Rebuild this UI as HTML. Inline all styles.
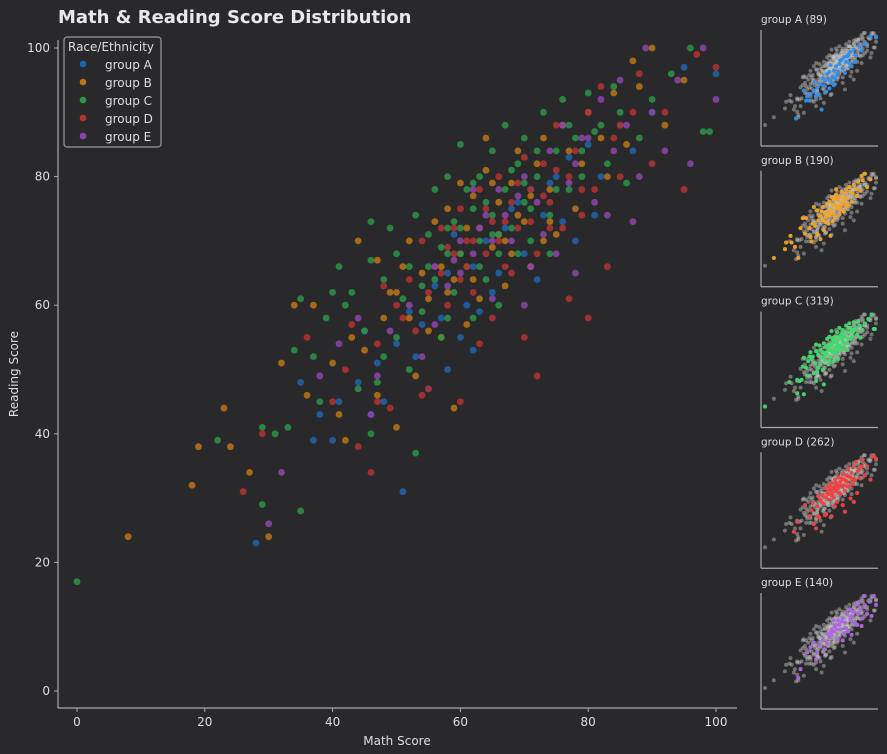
<!DOCTYPE html>
<html><head><meta charset="utf-8"><style>
html,body{margin:0;padding:0;background:#29292b;}
svg{display:block;font-family:"Liberation Sans","DejaVu Sans",sans-serif;}
</style></head><body>
<svg id="chart" width="887" height="754" viewBox="0 0 887 754">
<rect width="887" height="754" fill="#29292b"/>
<text x="58" y="23" fill="#e8e8e8" font-size="18" font-weight="bold" font-family="DejaVu Sans, sans-serif">Math &amp; Reading Score Distribution</text>
<g id="main"></g>
<g id="minis"></g>
<g id="legend">
<rect x="64" y="37" width="97" height="110" rx="3" fill="#29292b" stroke="#9a9a9a" stroke-width="1.2"/>
<text x="68" y="51" fill="#ddd" font-size="12" font-family="DejaVu Sans, sans-serif">Race/Ethnicity</text>
</g>
</svg>
<script>
const groups=["group A","group B","group C","group D","group E"];
const counts=[89,190,319,262,140];
const mathA=[28,37,38,40,41,44,46,48,50,51,53,54,55,57,58,60,61,62,64,65,67,68,70,71,73,75,77,78,80,82,85,87,90,95,100,62,56,45,35,66,59,63,69,72,76,52,47,74,81,58];
const readA=[23,39,43,39,45,48,43,45,54,31,52,57,47,58,50,55,60,66,70,62,72,75,68,78,74,80,83,70,85,80,88,84,90,97,96,53,63,56,48,65,71,59,76,64,73,59,51,79,74,65];
const mathB=[8,18,19,23,24,27,30,32,34,36,37,40,42,43,45,47,48,49,50,51,52,53,55,56,57,58,59,60,61,62,63,64,65,66,67,68,69,70,71,72,73,74,75,76,77,78,80,82,84,86,88,90,92,95,64,55,47,59,41,44,54,67,57,61,63,66,69,71,73,58,62,65,68,52,60,74,79,83,87,50];
const readB=[24,32,38,44,38,34,24,51,60,46,60,51,39,55,53,67,58,62,41,66,70,49,61,73,55,75,64,68,57,77,72,81,69,76,63,79,84,73,66,82,86,78,71,88,84,75,90,86,93,85,94,100,88,95,86,56,46,44,43,70,65,70,66,72,61,71,74,77,70,62,64,79,68,58,79,73,82,80,98,62];
const mathC=[0,22,29,29,33,34,35,35,37,39,40,41,42,43,44,45,46,46,47,48,48,49,50,50,51,52,53,53,54,55,56,56,57,58,58,59,60,60,61,62,62,63,63,64,65,65,66,67,67,68,69,70,70,71,72,73,74,75,76,77,78,79,80,82,83,85,86,88,90,93,96,98,99,46,52,58,66,74,31,38,55,57,59,61,63,64,66,68,69,71,72,75,77,79,81,84,60,62,65,70,54,58];
const readC=[17,39,29,41,41,53,28,61,52,58,62,66,60,62,47,56,67,73,48,52,64,72,55,68,61,66,37,74,59,71,64,78,55,68,80,62,72,85,66,75,58,70,80,64,74,84,68,78,88,72,82,76,86,70,80,90,74,84,92,78,86,80,93,88,82,90,79,86,92,96,100,87,87,40,50,58,60,68,40,45,66,69,73,78,66,76,71,81,68,75,84,78,88,84,87,94,68,79,71,79,63,72];
const mathD=[26,29,36,40,42,43,44,46,47,48,49,50,51,52,53,54,55,55,56,57,58,59,60,60,61,62,63,64,65,66,67,68,69,70,70,71,72,73,74,75,76,77,78,79,80,81,82,84,85,87,88,90,92,95,97,100,60,65,72,77,80,83,54,47,63,57,59,62,64,66,67,69,71,73,75,58,61,63,68,74,79,85];
const readD=[31,40,55,45,50,57,38,34,54,63,44,60,58,64,56,70,62,47,66,72,60,68,75,64,70,62,78,68,73,80,66,76,72,83,55,78,68,82,76,88,72,80,84,74,90,78,94,86,80,90,96,82,90,78,99,97,45,58,49,61,58,66,46,45,54,65,72,70,75,70,73,79,73,77,81,69,66,72,65,72,78,88];
const mathE=[30,32,38,41,44,46,47,49,52,54,56,58,60,62,64,65,66,68,70,72,74,75,76,78,80,81,82,84,85,86,88,89,90,92,94,96,98,100,70,73,78,62,56,83,87,59,63,67,69,71,77,79,60,65];
const readE=[26,34,49,54,58,43,49,56,60,52,66,63,70,68,74,61,78,70,80,76,84,68,88,82,86,76,92,84,95,88,80,100,90,84,95,82,100,92,60,71,65,78,57,74,73,67,72,74,77,66,79,86,65,70];
const yTicks=[0,20,40,60,80,100];
const xTicks=[0,20,40,60,80,100];
const mathAll=[mathA,mathB,mathC,mathD,mathE];
const readAll=[readA,readB,readC,readD,readE];
const mainCol=["#1e64b0","#bb7418","#2d9446","#b53232","#8d45ad"];
const miniCol=["#2b8cf0","#f6a21e","#3ddc68","#f23c3c","#b05ee8"];
const NS="http://www.w3.org/2000/svg";
function mk(tag,attrs,parent){const e=document.createElementNS(NS,tag);for(const k in attrs)e.setAttribute(k,attrs[k]);parent.appendChild(e);return e;}
const xs=m=>77+m*6.39, ys=r=>691-r*6.43;
const main=document.getElementById('main');
let ax=mk('line',{x1:58,y1:40,x2:58,y2:708,stroke:'#aaa','stroke-width':1.2},main);


ax=mk('line',{x1:58,y1:708,x2:737,y2:708,stroke:'#aaa','stroke-width':1.2},main);


yTicks.forEach(v=>{
 mk('line',{x1:54,y1:ys(v),x2:58,y2:ys(v),stroke:'#aaa'},main);
 const t=mk('text',{x:50,y:ys(v)+4,fill:'#ddd','font-size':12,'text-anchor':'end','font-family':'DejaVu Sans, sans-serif'},main);
 t.textContent=v;
 
 
});
xTicks.forEach(v=>{
 mk('line',{x1:xs(v),y1:708,x2:xs(v),y2:712,stroke:'#aaa'},main);
 const t=mk('text',{x:xs(v),y:726,fill:'#ddd','font-size':12,'text-anchor':'middle','font-family':'DejaVu Sans, sans-serif'},main);
 t.textContent=v;
 
 
});
let t=mk('text',{x:397,y:745,fill:'#ddd','font-size':12,'text-anchor':'middle','font-family':'DejaVu Sans, sans-serif'},main);
t.textContent='Math Score';


t=mk('text',{x:18,y:374,fill:'#ddd','font-size':12,'text-anchor':'middle',transform:'rotate(-90 18 374)','font-family':'DejaVu Sans, sans-serif'},main);
t.textContent='Reading Score';


for(let g=0;g<5;g++){
 for(let i=0;i<mathAll[g].length;i++){
  const c=mk('circle',{cx:xs(mathAll[g][i]),cy:ys(readAll[g][i]),r:3.4,fill:mainCol[g],'fill-opacity':0.85},main);
  
  
 }
}
const leg=document.getElementById('legend');
groups.forEach((gname,g)=>{
 const y=65+g*18;
 const c=mk('circle',{cx:83,cy:y-1,r:3.3,fill:mainCol[g]},leg);
 
 
 const tt=mk('text',{x:105,y:y+4,fill:'#ddd','font-size':12,'font-family':'DejaVu Sans, sans-serif'},leg);
 tt.textContent=gname;
 
 
});
const minis=document.getElementById('minis');
for(let g=0;g<5;g++){
 const off=g*140.75;
 const mx=m=>765+m*1.11, my=r=>125+off-(r-17)*1.108;
 const tt=mk('text',{x:761,y:23+off,fill:'#ddd','font-size':10.5,'font-family':'DejaVu Sans, sans-serif'},minis);
 tt.textContent=groups[g]+' ('+counts[g]+')';
 
 
 mk('line',{x1:761,y1:30+off,x2:761,y2:146+off,stroke:'#aaa','stroke-width':1.2},minis);
 mk('line',{x1:761,y1:146+off,x2:878,y2:146+off,stroke:'#aaa','stroke-width':1.2},minis);
 for(let h=0;h<5;h++){
  for(let i=0;i<mathAll[h].length;i++){
   const c=mk('circle',{cx:mx(mathAll[h][i]),cy:my(readAll[h][i]),r:2,fill:'#c8c8c8','fill-opacity':0.45},minis);
   
   
  }
 }
 for(let i=0;i<mathAll[g].length;i++){
  const c=mk('circle',{cx:mx(mathAll[g][i]),cy:my(readAll[g][i]),r:2,fill:miniCol[g],'fill-opacity':0.9},minis);
  
  
 }
}
</script>
</body></html>
